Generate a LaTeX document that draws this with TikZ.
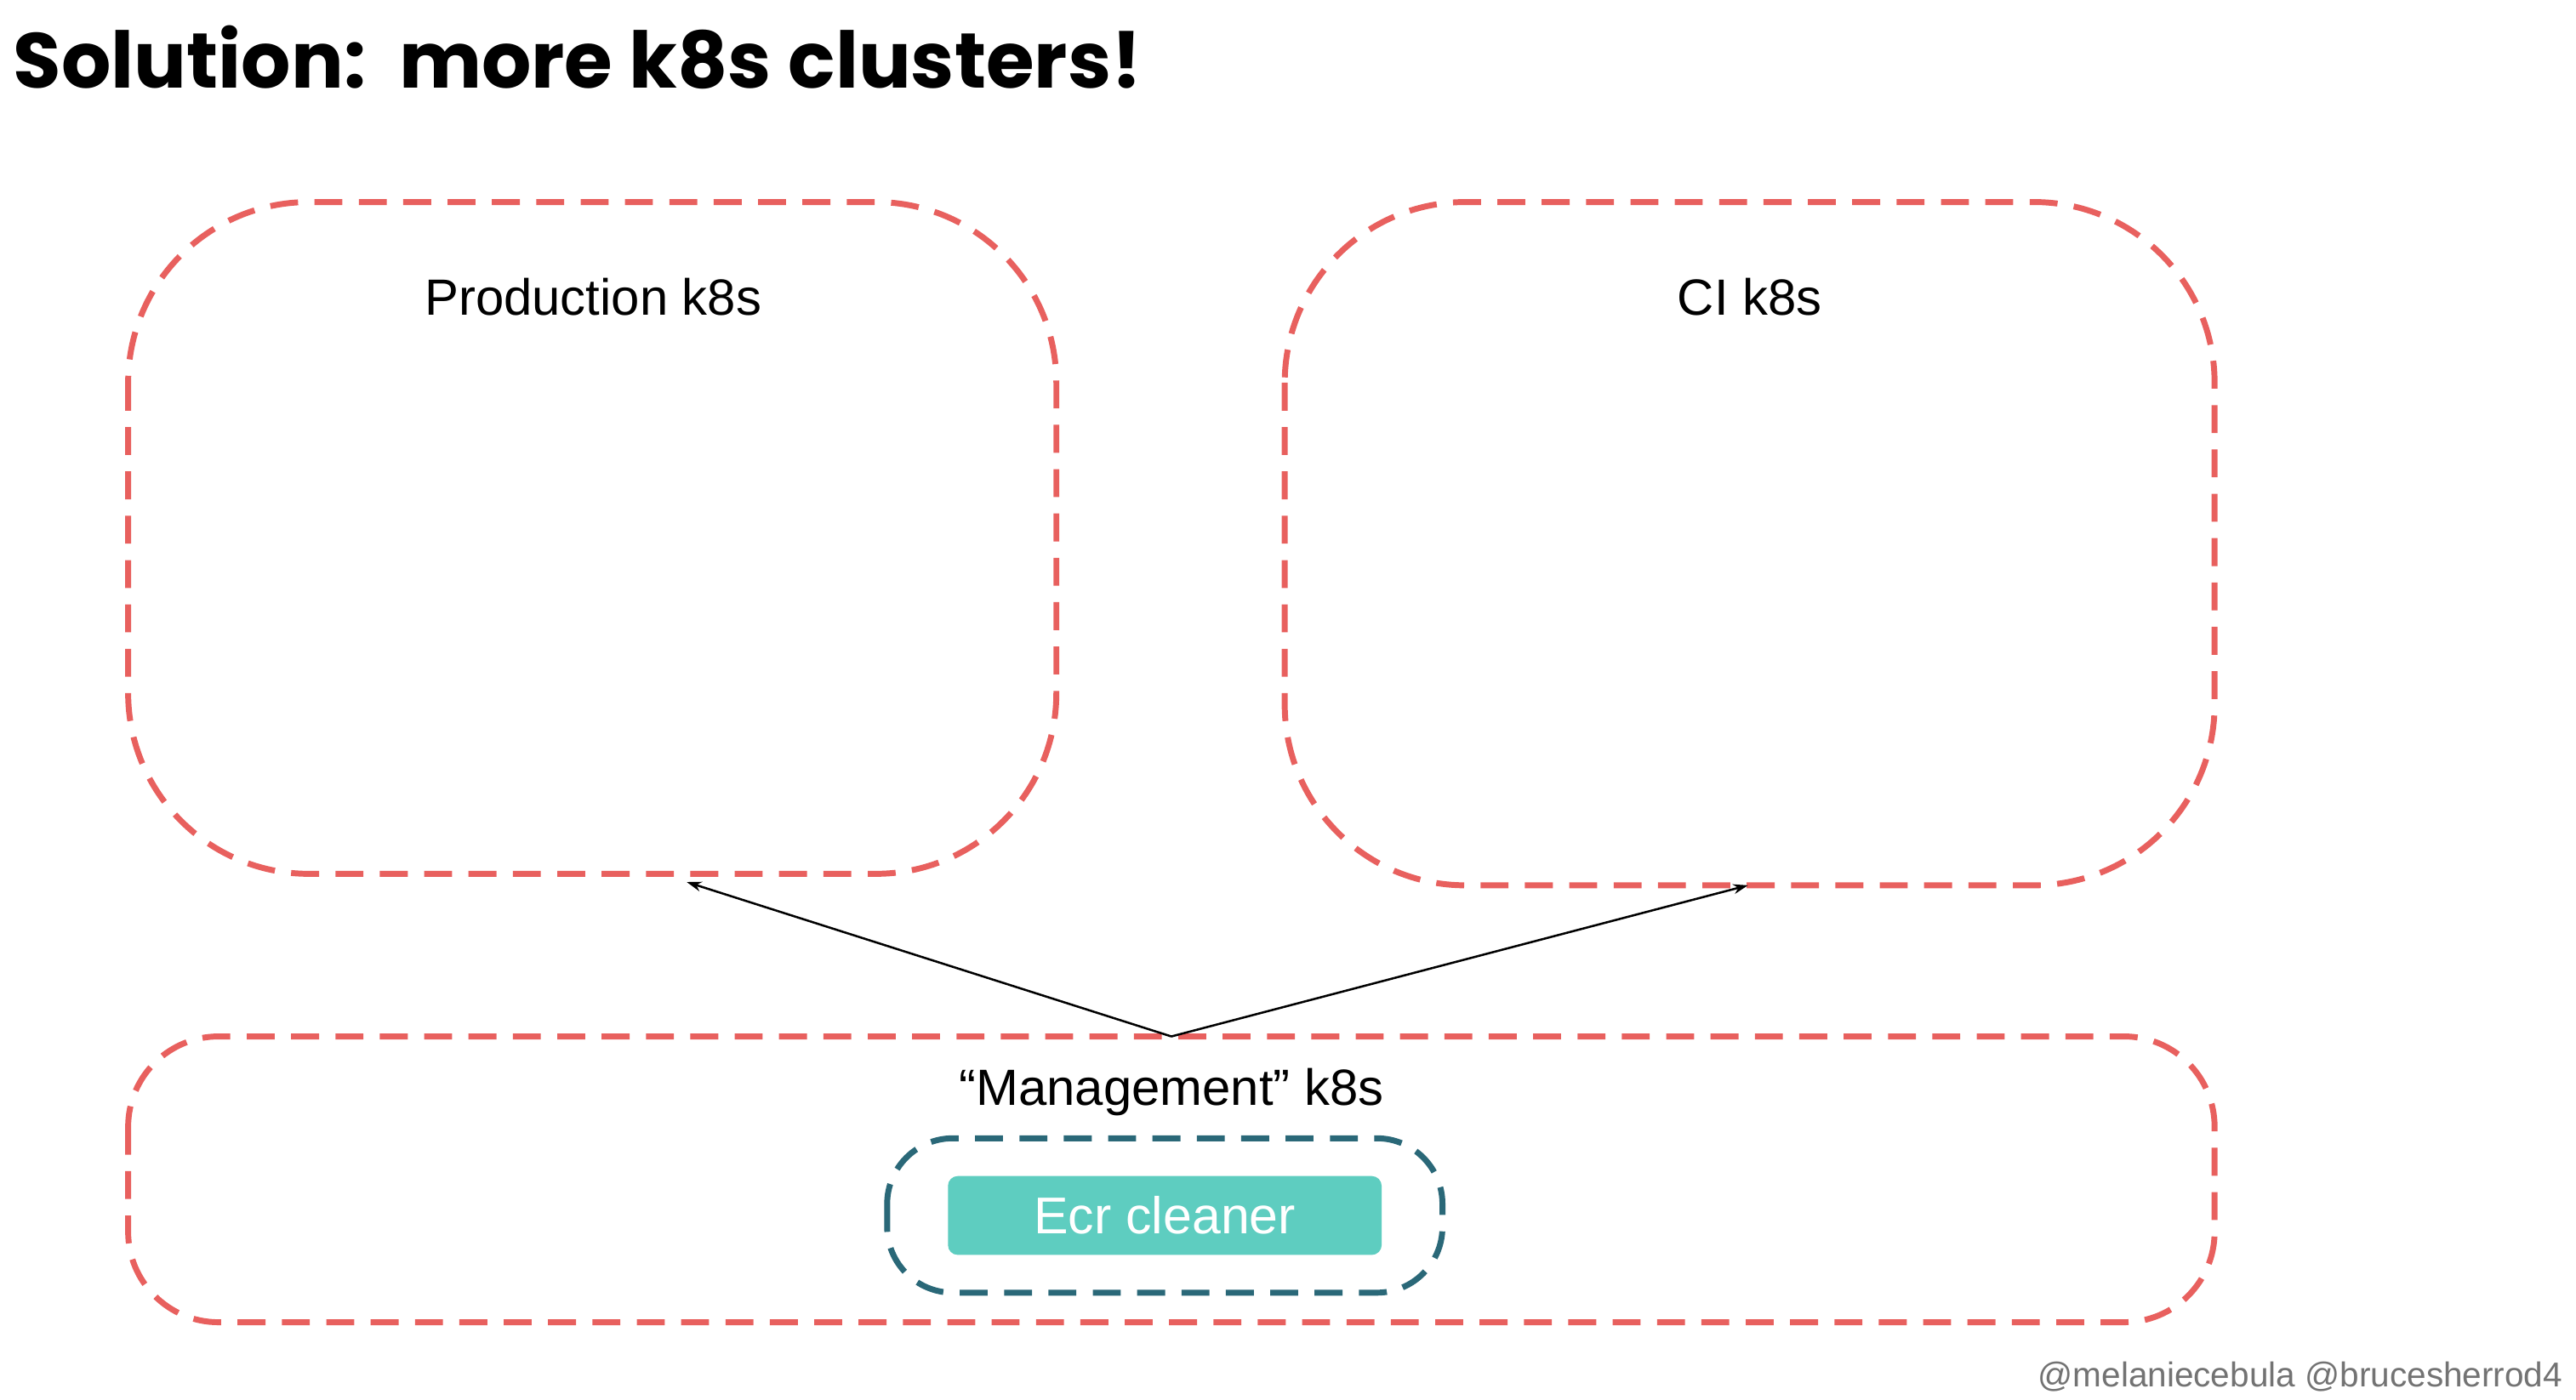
\documentclass[tikz,border=0pt]{standalone}
\usepackage{fontspec}
\setmainfont{Liberation Sans}
\newfontfamily\titlefont{Poppins}
\usetikzlibrary{arrows.meta}
\definecolor{red1}{HTML}{E8605E}
\definecolor{teal1}{HTML}{2A6878}
\definecolor{aqua}{HTML}{5ECDC0}
\begin{document}
\begin{tikzpicture}[x=1pt,y=-1pt,
  cluster/.style={draw=red1,line width=3.6pt,dash pattern=on 17pt off 10pt,rounded corners=#1,inner sep=0pt},
  lbl/.style={font=\fontsize{31}{36}\selectfont,anchor=center},
  arr/.style={-{Stealth[length=9pt,width=6pt]},line width=1.3pt}]
\useasboundingbox[fill=white] (0,0) rectangle (1568,852);
\node[anchor=west,inner sep=0pt,font=\titlefont\bfseries\fontsize{47.5}{56}\selectfont] (title) at (8,35) {Solution:\ \ more k8s clusters!};
\draw[cluster=110] (78,123) rectangle (643,532);
\draw[cluster=110] (782,123) rectangle (1348,539);
\draw[cluster=55] (78,631) rectangle (1348,805);
\draw[draw=teal1,line width=3.6pt,dash pattern=on 17pt off 10pt,rounded corners=40] (540,693) rectangle (878,787);
\node[lbl] (prod) at (361,181) {Production k8s};
\node[lbl] (ci) at (1065,181) {CI k8s};
\node[lbl] (mgmt) at (713,665) {“Management” k8s};
\node[fill=aqua,rounded corners=6pt,minimum width=264pt,minimum height=48pt,text=white,font=\fontsize{31.5}{36}\selectfont] (ecr) at (709,740) {Ecr cleaner};
\coordinate (m) at (713,631);
\coordinate (pt) at (418,537);
\coordinate (ct) at (1064,539);
\draw[arr] (m) -- (pt);
\draw[arr] (m) -- (ct);
\node[anchor=east,inner sep=0pt,text=black!55,font=\fontsize{21}{24}\selectfont] (foot) at (1560,838) {@melaniecebula @brucesherrod4};
\end{tikzpicture}
\end{document}
